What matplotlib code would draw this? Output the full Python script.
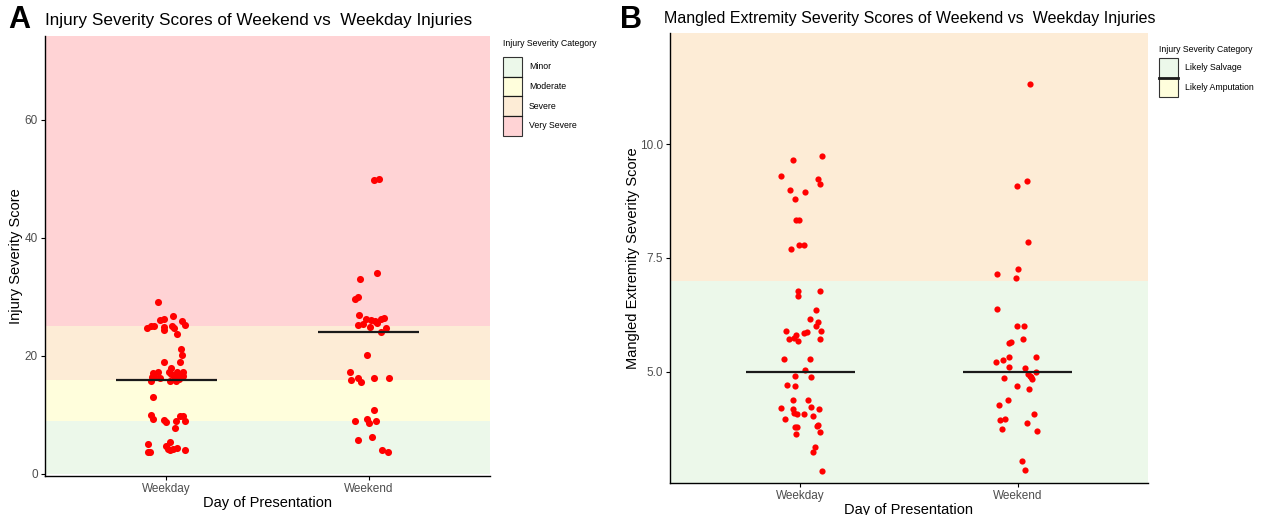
import numpy as np
import matplotlib
matplotlib.use("Agg")
import matplotlib.pyplot as plt
from matplotlib.patches import Rectangle
from matplotlib.lines import Line2D

plt.rcParams['font.family'] = ['Liberation Sans', 'DejaVu Sans']

groups = ["Weekday", "Weekend"]

# panel A: injury severity score
iss_weekday = [29.2, 24.8, 25.1, 25.0, 24.9, 26.1, 26.2, 26.7, 26.0, 25.2, 25.1, 24.7, 24.4, 23.8,
               21.2, 20.1, 18.9, 18.9, 18.0, 17.1, 17.3, 16.5, 16.6, 16.3, 15.8, 17.3, 16.9, 17.2,
               17.3, 16.6, 16.6, 16.6, 15.8, 15.8, 16.1, 13.1, 10.0, 9.3, 9.2, 8.8, 9.8, 9.9, 8.9,
               9.0, 7.8, 5.1, 3.7, 3.8, 5.5, 4.7, 4.0, 4.4, 4.1, 4.3, 4.2]
iss_weekday_jit = [-0.039, -0.094, -0.062, -0.078, -0.014, -0.031, -0.012, 0.033, 0.078, 0.090, 0.027,
                   0.039, -0.012, 0.053, 0.070, 0.078, -0.010, 0.066, 0.023, -0.064, -0.039, -0.070,
                   -0.059, -0.033, -0.074, 0.014, 0.023, 0.051, 0.082, 0.039, 0.068, 0.084, 0.016,
                   0.049, 0.062, -0.068, -0.078, -0.068, -0.014, 0.0, 0.084, 0.068, 0.090, 0.047,
                   0.045, -0.090, -0.092, -0.082, 0.020, -0.004, 0.020, 0.055, 0.092, 0.010, 0.033]
iss_weekend = [49.8, 50.0, 34.0, 33.0, 29.6, 30.0, 26.9, 26.3, 26.1, 25.9, 26.3, 26.5, 25.2, 25.4,
               24.9, 25.6, 24.8, 24.0, 20.2, 17.3, 15.9, 16.2, 15.6, 16.2, 16.3, 10.8, 9.0, 9.4,
               8.7, 8.9, 5.8, 6.3, 4.0, 3.8]
iss_weekend_jit = [0.025, 0.051, 0.041, -0.043, -0.068, -0.053, -0.047, -0.014, 0.014, 0.031, 0.059,
                   0.074, -0.053, -0.027, 0.006, 0.039, 0.086, 0.061, -0.010, -0.094, -0.086, -0.053,
                   -0.037, 0.025, 0.100, 0.025, -0.066, -0.008, 0.002, 0.035, -0.051, 0.016, 0.066,
                   0.096]
iss_median = [16, 24]
iss_bands = [("Minor", 0, 9, "#ecf8ea"), ("Moderate", 9, 16, "#fffedc"),
             ("Severe", 16, 25, "#fdecd6"), ("Very Severe", 25, 75, "#ffd3d5")]
iss_ticks = [0, 20, 40, 60]

# panel B: mangled extremity severity score
mess_weekday = [9.66, 9.73, 9.29, 9.23, 9.12, 9.00, 8.95, 8.79, 8.33, 8.33, 7.69, 7.78, 7.78,
                6.78, 6.77, 6.66, 6.36, 6.15, 6.09, 6.00, 5.89, 5.89, 5.82, 5.87, 5.86, 5.73, 5.74,
                5.67, 5.73, 5.28, 5.28, 5.04, 4.91, 4.88, 4.71, 4.69, 4.39, 4.39, 4.21, 4.19, 4.10,
                4.07, 4.07, 4.22, 4.04, 4.19, 3.97, 3.78, 3.79, 3.81, 3.83, 3.69, 3.64, 3.34, 3.24,
                2.82]
mess_weekday_jit = [-0.034, 0.098, -0.090, 0.079, 0.092, -0.047, 0.023, -0.023, -0.019, -0.008,
                    -0.043, -0.008, 0.015, -0.009, 0.090, -0.011, 0.071, 0.045, 0.079, 0.071, 0.094,
                    -0.068, -0.021, 0.030, 0.019, -0.051, -0.030, -0.011, 0.090, -0.075, 0.043,
                    0.023, -0.026, 0.051, -0.062, -0.023, -0.034, 0.034, -0.088, -0.034, -0.030,
                    -0.015, 0.019, 0.047, 0.060, 0.085, -0.071, -0.026, -0.015, 0.075, 0.083, 0.090,
                    -0.019, 0.066, 0.060, 0.100]
mess_weekend = [11.31, 9.07, 9.19, 7.86, 7.15, 7.25, 7.05, 6.38, 6.00, 6.01, 5.64, 5.65, 5.72,
                5.21, 5.27, 5.33, 5.32, 5.10, 5.08, 5.00, 4.96, 4.90, 4.88, 4.84, 4.86, 4.68, 4.62,
                4.38, 4.27, 4.08, 3.94, 3.97, 3.87, 3.75, 3.70, 3.05, 2.85]
mess_weekend_jit = [0.056, -0.004, 0.043, 0.047, -0.094, 0.0, -0.008, -0.094, -0.004, 0.028,
                    -0.038, -0.030, 0.024, -0.098, -0.066, -0.038, 0.083, -0.041, 0.032, 0.086,
                    0.047, 0.056, 0.062, 0.066, -0.062, -0.004, 0.053, -0.043, -0.085, 0.077,
                    -0.079, -0.056, 0.041, -0.071, 0.088, 0.019, 0.034]
mess_median = [5, 5]
mess_bands = [("Likely Salvage", 0, 7, "#ecf8ea"), ("Likely Amputation", 7, 13, "#fdecd6")]
mess_legend_colors = ["#ecf8ea", "#fffedc"]
mess_ticks = [5.0, 7.5, 10.0]

W, H = 1262, 515
fig = plt.figure(figsize=(W / 100, H / 100), dpi=100)


def px_box(x0, y0, x1, y1):
    return [x0 / W, 1 - y1 / H, (x1 - x0) / W, (y1 - y0) / H]


def draw_panel(ax, bands, wd, wd_jit, we, we_jit, medians, ticks, ylim, fmt, dot_size):
    for name, lo, hi, col in bands:
        ax.axhspan(lo, hi, color=col, lw=0, zorder=0)
    ax.scatter(1 + np.array(wd_jit), wd, s=dot_size, color="#ff0000", lw=0, zorder=3)
    ax.scatter(2 + np.array(we_jit), we, s=dot_size, color="#ff0000", lw=0, zorder=3)
    for i, m in enumerate(medians):
        ax.hlines(m, i + 1 - 0.25, i + 1 + 0.25, color="#1a1a1a", lw=1.6, zorder=4)
    ax.set_xlim(0.4, 2.6)
    ax.set_ylim(*ylim)
    ax.set_xticks([1, 2])
    ax.set_xticklabels(groups)
    ax.set_yticks(ticks)
    ax.set_yticklabels([fmt.format(t) for t in ticks])
    for s in ["top", "right"]:
        ax.spines[s].set_visible(False)
    for s in ["left", "bottom"]:
        ax.spines[s].set_linewidth(1.0)
        ax.spines[s].set_zorder(5)
    ax.tick_params(length=3, width=0.8, labelsize=8.5, labelcolor="#4d4d4d", pad=2)
    ax.set_xlabel("Day of Presentation", fontsize=10.5, labelpad=1)


def draw_legend(x, y_title, y_key, labels, colors, sep_lw):
    fig.text(x / W, 1 - y_title / H, "Injury Severity Category", fontsize=6.3, va="center")
    kh = 19.7
    for i, (lab, col) in enumerate(zip(labels, colors)):
        y0 = y_key + i * kh
        fig.add_artist(Rectangle((x / W, 1 - (y0 + kh) / H), 19 / W, kh / H,
                                 transform=fig.transFigure, facecolor=col,
                                 edgecolor="#333333", lw=0.8))
        fig.text((x + 26) / W, 1 - (y0 + kh / 2) / H, lab, fontsize=6.3, va="center")
    for i in range(1, len(labels)):
        yy = 1 - (y_key + i * kh) / H
        fig.add_artist(Line2D([x / W, (x + 19) / W], [yy, yy], transform=fig.transFigure,
                              color="#1a1a1a", lw=sep_lw))


# panel A
axA = fig.add_axes(px_box(45, 36, 490, 476))
draw_panel(axA, iss_bands, iss_weekday, iss_weekday_jit, iss_weekend, iss_weekend_jit,
           iss_median, iss_ticks, (-0.34, 74.2), "{:.0f}", 26)
axA.set_ylabel("Injury Severity Score", fontsize=10.5, labelpad=1)
fig.text(45 / W, 1 - 20 / H, "Injury Severity Scores of Weekend vs  Weekday Injuries",
         fontsize=12.3, va="center")
fig.text(8 / W, 1 - 20 / H, "A", fontsize=22, fontweight="bold", va="center")
draw_legend(503, 44, 57, [b[0] for b in iss_bands], [b[3] for b in iss_bands], 0.8)

# panel B
axB = fig.add_axes(px_box(670, 33, 1148, 483))
draw_panel(axB, mess_bands, mess_weekday, mess_weekday_jit, mess_weekend, mess_weekend_jit,
           mess_median, mess_ticks, (2.56, 12.44), "{:.1f}", 20)
axB.set_ylabel("Mangled Extremity Severity Score", fontsize=10.5, labelpad=0)
fig.text(664 / W, 1 - 18 / H, "Mangled Extremity Severity Scores of Weekend vs  Weekday Injuries",
         fontsize=11.5, va="center")
fig.text(620 / W, 1 - 20 / H, "B", fontsize=22, fontweight="bold", va="center")
draw_legend(1159, 49, 58, [b[0] for b in mess_bands], mess_legend_colors, 2.0)

fig.savefig("out.png", dpi=100)
